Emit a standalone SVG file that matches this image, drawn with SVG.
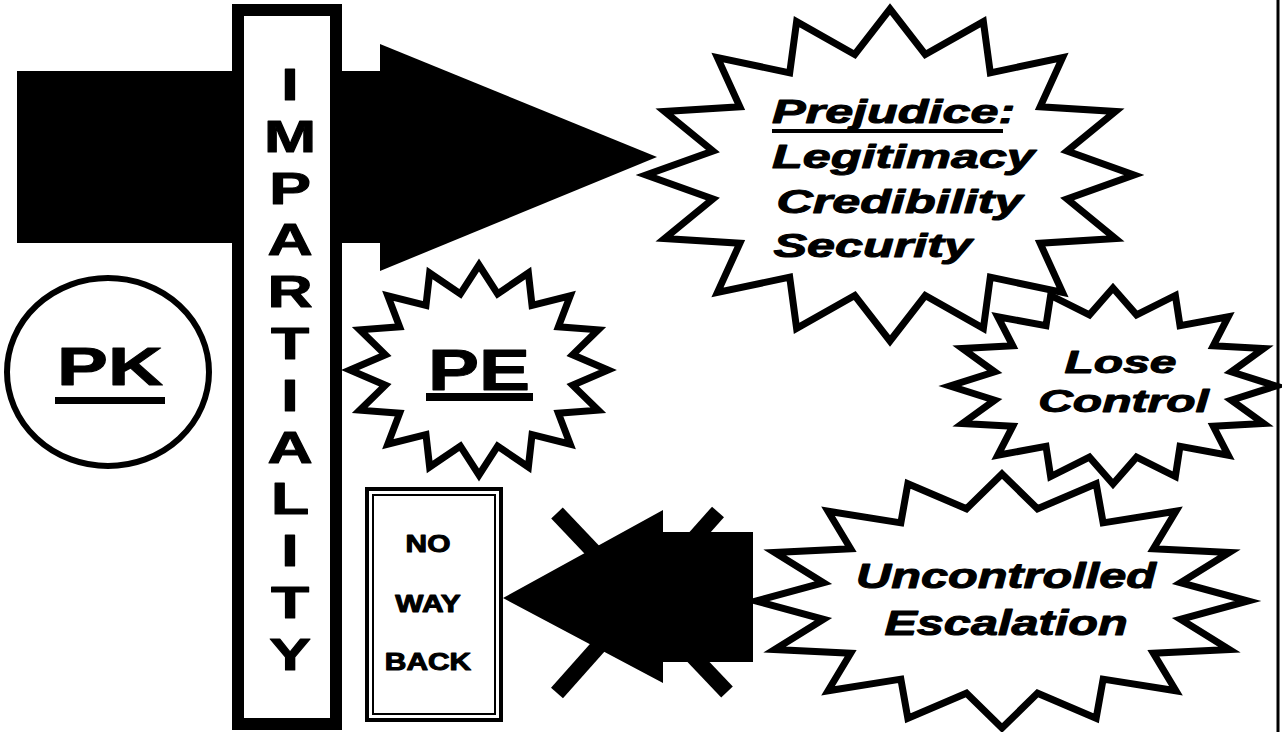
<svg xmlns="http://www.w3.org/2000/svg" xmlns:xlink="http://www.w3.org/1999/xlink" width="1282" height="732" viewBox="0 0 1282 732">
<style>
.star{fill:#fff;stroke:#000;stroke-width:7;stroke-linejoin:miter;vector-effect:non-scaling-stroke}
.t{font-family:"Liberation Sans",Arial,sans-serif;font-weight:bold;fill:#000;stroke:#000;stroke-width:1;stroke-linejoin:round}
.it{font-style:italic}
.blk{fill:#000}
</style>
<defs>
<polygon id="star16" class="star" points="0,-100 14.44,-72.58 38.27,-92.39 41.11,-61.53 70.71,-70.71 61.53,-41.11 92.39,-38.27 72.58,-14.44 100,0 72.58,14.44 92.39,38.27 61.53,41.11 70.71,70.71 41.11,61.53 38.27,92.39 14.44,72.58 0,100 -14.44,72.58 -38.27,92.39 -41.11,61.53 -70.71,70.71 -61.53,41.11 -92.39,38.27 -72.58,14.44 -100,0 -72.58,-14.44 -92.39,-38.27 -61.53,-41.11 -70.71,-70.71 -41.11,-61.53 -38.27,-92.39 -14.44,-72.58"/>
</defs>
<rect width="1282" height="732" fill="#fff"/>
<line x1="1278" y1="0" x2="1278" y2="732" stroke="#000" stroke-width="3"/>

<g id="prejudice">
<use href="#star16" transform="translate(890,175) scale(2.44,1.66)"/>
<g class="t it" font-size="34" transform="translate(772,0) scale(1.48,1)">
<text x="0" y="123">Prejudice:</text>
<text x="0" y="168">Legitimacy</text>
<text x="3" y="213">Credibility</text>
<text x="1" y="257">Security</text>
</g>
<rect x="772" y="129" width="231" height="4" class="blk"/>
</g>

<g id="uncontrolled">
<use href="#star16" transform="translate(1002,601) scale(2.46,1.27)"/>
<g class="t it" font-size="35" text-anchor="middle" transform="translate(1006,0) scale(1.39,1)">
<text x="0" y="588">Uncontrolled</text>
<text x="0" y="635">Escalation</text>
</g>
</g>

<g id="lose-control">
<use href="#star16" transform="translate(1113,386) scale(1.63,0.98)"/>
<g class="t it" font-size="32" text-anchor="middle" transform="translate(1122,0) scale(1.5,1)">
<text x="-1" y="373">Lose</text>
<text x="1" y="412">Control</text>
</g>
</g>

<g id="pe">
<use href="#star16" transform="translate(479,370) scale(1.29,1.05)"/>
<text class="t" font-size="58" text-anchor="middle" transform="translate(479,390) scale(1.32,1)" x="0" y="0">PE</text>
<rect x="426" y="393" width="107" height="8" class="blk"/>
</g>

<g id="pk">
<ellipse cx="108" cy="372" rx="101" ry="94" fill="#fff" stroke="#000" stroke-width="6"/>
<text class="t" font-size="53" text-anchor="middle" transform="translate(110,385) scale(1.44,1)" x="0" y="0">PK</text>
<rect x="55" y="397" width="110" height="7" class="blk"/>
</g>

<g id="connectors">
<g id="forward-arrow">
<rect x="17" y="71" width="366" height="172" class="blk"/>
<polygon points="380,44 657,157 380,271" class="blk"/>
</g>
<g id="blocked-arrow">
<polygon points="503,598 663,510 663,532 753,532 753,662 663,662 663,683" class="blk"/>
<line x1="557" y1="513" x2="727" y2="692" stroke="#000" stroke-width="16"/>
<line x1="718" y1="512" x2="557" y2="693" stroke="#000" stroke-width="16"/>
</g>
</g>

<g id="impartiality">
<rect x="238" y="10" width="98" height="714" fill="#fff" stroke="#000" stroke-width="12"/>
<g class="t" font-size="45" text-anchor="middle" transform="translate(290,0) scale(1.39,1)">
<text x="0" y="100">I</text>
<text x="0" y="152">M</text>
<text x="0" y="204">P</text>
<text x="0" y="255">A</text>
<text x="0" y="307">R</text>
<text x="0" y="359">T</text>
<text x="0" y="411">I</text>
<text x="0" y="463">A</text>
<text x="0" y="514">L</text>
<text x="0" y="566">I</text>
<text x="0" y="618">T</text>
<text x="0" y="670">Y</text>
</g>
</g>

<g id="no-way-back">
<rect x="367" y="489" width="134" height="231" fill="#fff" stroke="#000" stroke-width="4"/>
<rect x="373" y="495" width="122" height="219" fill="none" stroke="#000" stroke-width="2"/>
<g class="t" font-size="23" text-anchor="middle" transform="translate(428,0) scale(1.3,1)">
<text x="0" y="552">NO</text>
<text x="0" y="612">WAY</text>
<text x="0" y="670">BACK</text>
</g>
</g>
</svg>
